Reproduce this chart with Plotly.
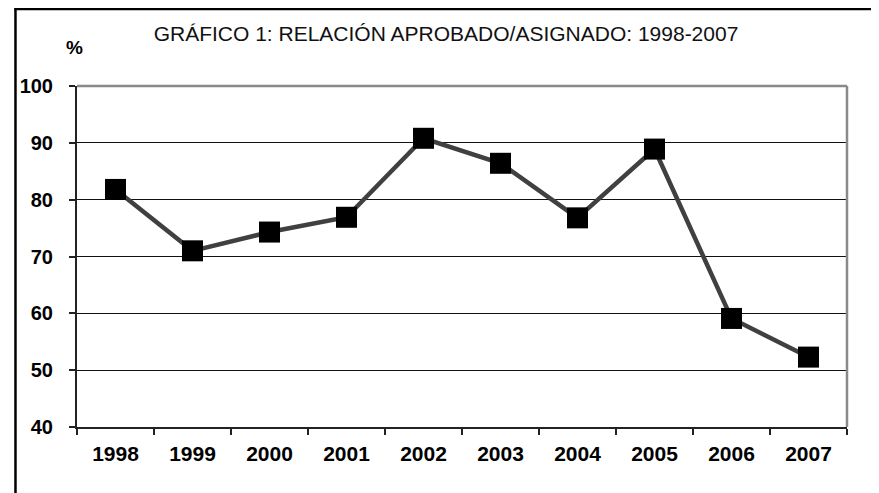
import plotly.graph_objects as go

years = ["1998", "1999", "2000", "2001", "2002", "2003", "2004", "2005", "2006", "2007"]
ratio = [81.8, 71.0, 74.3, 76.9, 90.8, 86.4, 76.8, 88.9, 59.1, 52.3]
y_ticks = [40, 50, 60, 70, 80, 90, 100]

# page is offset by the default 8px body margin
OFF = 8
W, H = 879 - OFF, 493 - OFF
L, R, T, B = 71 - OFF, 847 - OFF, 86 - OFF, 427 - OFF

def px(x):
    return (x - OFF - L) / (R - L)

def py(y):
    return (B - (y - OFF)) / (B - T)

fig = go.Figure()
fig.add_trace(go.Scatter(
    x=years, y=ratio, mode="lines+markers",
    line=dict(color="#404040", width=4.5),
    marker=dict(symbol="square", size=21, color="black", line=dict(width=0)),
    showlegend=False, hoverinfo="x+y",
))

FONT = "Liberation Sans, Arial, sans-serif"

fig.update_layout(
    width=W, height=H,
    margin=dict(l=L, r=W - R, t=T, b=H - B, pad=0),
    paper_bgcolor="white", plot_bgcolor="white",
    font=dict(family=FONT, color="black"),
    title=dict(
        text="GRÁFICO 1: RELACIÓN APROBADO/ASIGNADO: 1998-2007",
        x=(446 - OFF) / W, xref="container", xanchor="center",
        y=1 - (34 - OFF) / H, yref="container", yanchor="middle",
        font=dict(family=FONT, size=21, color="#111"),
    ),
    xaxis=dict(
        type="category", tickson="boundaries", range=[-0.5, 9.5],
        showgrid=False, showline=True, linecolor="#222", linewidth=2,
        ticks="outside", ticklen=6, tickcolor="#222", tickwidth=1.5,
        tickfont=dict(family=FONT, size=21, color="black", weight="bold"),
        ticklabelstandoff=7, zeroline=False, fixedrange=True,
    ),
    yaxis=dict(
        range=[40, 100], tickvals=y_ticks,
        showgrid=True, gridcolor="#111", gridwidth=1,
        showline=True, linecolor="#222", linewidth=2,
        ticks="outside", ticklen=6, tickcolor="#222", tickwidth=1.5,
        tickfont=dict(family=FONT, size=20, color="black", weight="bold"),
        ticklabelstandoff=12, zeroline=False, fixedrange=True,
    ),
    shapes=[
        # gray top and right plot border
        dict(type="line", xref="paper", yref="paper", x0=0, x1=1, y0=1, y1=1,
             line=dict(color="#8a8a8a", width=2.5), layer="above"),
        dict(type="line", xref="paper", yref="paper", x0=1, x1=1, y0=0, y1=1,
             line=dict(color="#8a8a8a", width=2.5), layer="above"),
        # outer frame (top and left), at the very edge of the figure
        dict(type="line", xref="paper", yref="paper", x0=px(OFF), x1=px(900), y0=py(OFF + 1), y1=py(OFF + 1),
             line=dict(color="black", width=2.5)),
        dict(type="line", xref="paper", yref="paper", x0=px(OFF + 1), x1=px(OFF + 1), y0=py(OFF), y1=py(520),
             line=dict(color="black", width=2.5)),
    ],
    annotations=[
        dict(text="<b>%</b>", xref="paper", yref="paper", x=px(68), y=py(47),
             xanchor="center", yanchor="middle", showarrow=False,
             font=dict(family=FONT, size=19, color="black")),
    ],
)

fig.write_html("out.html")
